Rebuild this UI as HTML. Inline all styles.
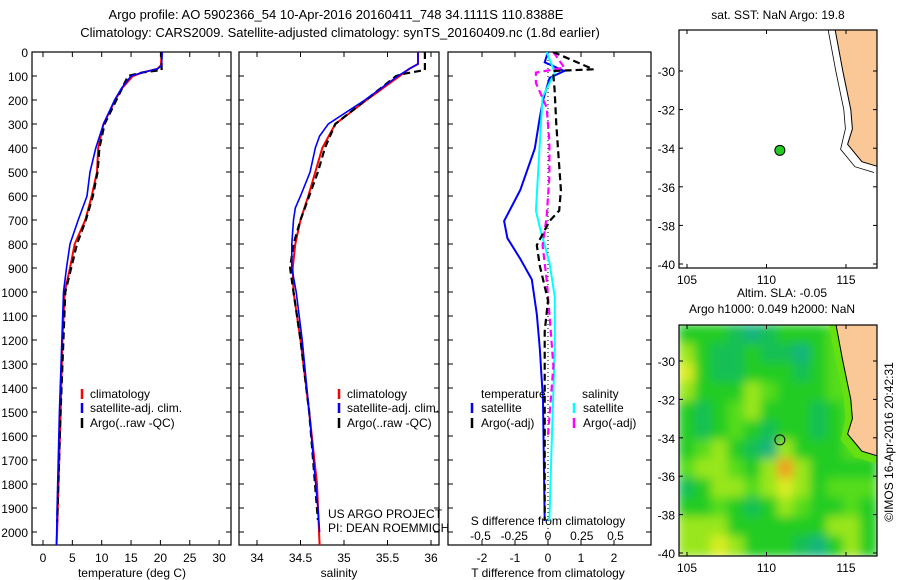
<!DOCTYPE html>
<html><head><meta charset="utf-8"><style>
body{margin:0;background:#fff;}
svg{display:block;font-family:"Liberation Sans",sans-serif;}
text{fill:#000;}
</style></head><body>
<svg id="s" width="900" height="580" viewBox="0 0 900 580" xmlns="http://www.w3.org/2000/svg">
<defs>
<clipPath id="c1"><rect x="32" y="52" width="199" height="493"/></clipPath>
<clipPath id="c2"><rect x="239" y="52" width="200" height="493"/></clipPath>
<clipPath id="c3"><rect x="448" y="52" width="203" height="493"/></clipPath>
<clipPath id="cm1"><rect x="679" y="30" width="198" height="238"/></clipPath>
<clipPath id="cm2"><rect x="679" y="325" width="198" height="231"/></clipPath>
<filter id="bl" x="-5%" y="-5%" width="110%" height="110%"><feGaussianBlur stdDeviation="5"/></filter>
</defs>
<text x="336" y="19" font-size="13" text-anchor="middle">Argo profile: AO 5902366_54 10-Apr-2016 20160411_748 34.1111S 110.8388E</text>
<text x="340" y="37" font-size="13" text-anchor="middle">Climatology: CARS2009. Satellite-adjusted climatology: synTS_20160409.nc (1.8d earlier)</text>
<g id="root"></g>
</svg>
<script>
// ---------- data ----------
const tempClimDepth=[0,55,70,85,100,150,200,300,400,500,600,700,800,900,1000,1200,1500,2000,2055];
const tempClim=[20.2,20.1,19.5,17,15.3,13.5,12.3,10.3,9.4,9.2,8.3,7.2,5.4,4.6,3.7,3.3,3.0,2.4,2.3];
const tempSatDepth=[0,55,70,85,100,150,200,300,400,500,600,700,800,900,1000,1500,1900,2055];
const tempSat=[20.3,20.2,19.5,17,15,13.4,12.2,10.3,9.0,8.0,7.5,6.0,4.6,4.0,3.5,2.8,2.4,2.3];
const tempArgoDepth=[0,75,85,100,200,300,400,500,600,700,800,900,1000,1500,1960];
const tempArgo=[20.2,20.2,17,14.5,12.5,10.5,9.6,9.3,8.5,7.3,5.8,4.8,3.8,3.0,2.4];
const salClimDepth=[0,50,70,100,200,300,400,500,600,700,800,900,1000,1200,1500,1800,2055];
const salClim=[35.85,35.85,35.75,35.64,35.26,34.9,34.75,34.67,34.59,34.5,34.44,34.41,34.42,34.5,34.6,34.69,34.72];
const salSatDepth=[0,50,70,100,200,300,350,400,500,600,650,700,800,900,1000,1200,1500,1900,2000];
const salSat=[35.85,35.85,35.75,35.62,35.24,34.82,34.72,34.67,34.61,34.5,34.44,34.42,34.4,34.4,34.45,34.52,34.6,34.7,34.72];
const salArgoDepth=[0,75,90,100,200,300,400,500,600,700,800,900,1000,1200,1500,1950];
const salArgo=[35.93,35.93,35.7,35.6,35.25,34.9,34.78,34.7,34.6,34.5,34.42,34.38,34.42,34.5,34.6,34.7];
const dTsatDepth=[0,43,79,108,201,273,402,575,704,776,862,948,1092,1236,1451,1954];
const dTsat=[0,-0.1,0.49,0.05,-0.15,-0.25,-0.4,-0.84,-1.33,-1.23,-0.84,-0.49,-0.34,-0.25,-0.15,-0.1];
const dTargoDepth=[0,72,79,158,302,575,661,704,805,891,1035,1164,1739,1950];
const dTargo=[0.15,1.38,0.15,0.2,0.25,0.39,0.34,0.05,-0.34,-0.25,0,-0.1,-0.1,-0.1];
const dSsatDepth=[0,86,187,374,661,733,877,1020,1236,1667,1954];
const dSsat=[-0.01,0.05,-0.04,-0.06,-0.09,-0.06,0.01,0.05,0.05,0.025,0.01];
const dSargoDepth=[0,65,86,129,230,374,517,690,805,948,1092,1308,1595];
const dSargo=[0.04,0.12,-0.09,-0.09,-0.01,0.01,0.01,-0.01,-0.04,-0.01,0.01,0.04,0];
const depthTicks=[0,100,200,300,400,500,600,700,800,900,1000,1100,1200,1300,1400,1500,1600,1700,1800,1900,2000];
const tempTicks=[0,5,10,15,20,25,30];
const salTicks=[34,34.5,35,35.5,36];
const dTTicks=[-2,-1,0,1,2];
const dSTicks=[-0.5,-0.25,0,0.25,0.5];
const dSTickLabels=["-0.5","-0.25","0","0.25","0.5"];
const lonTicks=[105,110,115];
const latTicks=[-30,-32,-34,-36,-38,-40];
const argoLon=110.84, argoLat=-34.11;
// SLA class grid (rows top->bottom, 12x12)
const slaGrid=[
[1,1,1,0.5,0.4,0.5,1,1,1,1.5,1.5,1.5],
[2,1,0.5,0.5,1,0.5,0.5,0.3,1,1.5,1.5,1.5],
[3,1,0.5,0.6,1,1,1,0.5,1,1.5,1.5,1.5],
[2,1,1,1,2,1.5,1,1,1,1.5,1.5,1.5],
[1,0.5,1,1.5,2,1,1,1,0.5,1,1.5,1.5],
[1,0.5,1,1.5,1,0.5,1,1,0.5,1,1.5,1.5],
[1,1.5,2,1,0.5,0.3,2,1,1,1,1.5,1.5],
[1.5,2,2,1.5,1,2,3.6,2,1,1,1,1],
[0.5,1,2,2,1.5,2,3,2,1,1.5,1.5,1.5],
[1,1,1.5,1,0.5,1,2,1.5,1,1,1.5,1],
[2,2,2,1,1,1,1,1,1,2,2,1],
[2,2,2.5,2,1,1,1,0.5,0.4,1,2,1]];
const coastLon=[114.3,114.8,115.3,115.4,115.1,116.0,117.2];
const coastLat=[-27.8,-30,-32,-33,-33.8,-34.7,-35.0];

// ---------- helpers ----------
const NS='http://www.w3.org/2000/svg';
const root=document.getElementById('root');
function mk(tag,attrs,parent){const e=document.createElementNS(NS,tag);for(const k in attrs)e.setAttribute(k,attrs[k]);(parent||root).appendChild(e);return e;}
const yD=d=>52+d*0.24;
const xT=t=>43+t*5.87;
const xS=s=>257+(s-34)*87;
const xDT=t=>548+t*33;
const xDS=s=>548+s*135;
function line(xs,ds,fx,color,w,dash,clip,name){
  const p=xs.map((v,i)=>fx(v).toFixed(1)+','+yD(ds[i]).toFixed(1)).join(' ');
  const e=mk('polyline',{points:p,fill:'none',stroke:color,'stroke-width':w,'clip-path':'url(#'+clip+')'});
  if(dash)e.setAttribute('stroke-dasharray',dash);
  
  
}
function txt(x,y,s,size,anchor,name){const e=mk('text',{x:x,y:y,'font-size':size,'text-anchor':anchor||'start'});e.textContent=s;return e;}
function panel(x0,w,name){const r=mk('rect',{x:x0,y:52,width:w,height:493,fill:'none',stroke:'#000','stroke-width':1.2});
  depthTicks.forEach(d=>{mk('line',{x1:x0,x2:x0+5,y1:yD(d),y2:yD(d),stroke:'#000'});mk('line',{x1:x0+w-5,x2:x0+w,y1:yD(d),y2:yD(d),stroke:'#000'});});}
function xticks(ticks,fx,labels,y,name){ticks.forEach((t,i)=>{const x=fx(t);mk('line',{x1:x,x2:x,y1:52,y2:57,stroke:'#000'});mk('line',{x1:x,x2:x,y1:540,y2:545,stroke:'#000'});txt(x,y,labels?labels[i]:String(t),12,'middle',name);});}

// ---------- panel 1 ----------
panel(32,199,'temperature-panel');
depthTicks.forEach(d=>txt(28,yD(d)+5,String(d),12,'end','depth-tick-label'));
xticks(tempTicks,xT,null,562,'temperature-tick-label');
txt(132,577,'temperature (deg C)',12,'middle','temperature-axis-title');
line(tempClim,tempClimDepth,xT,'#f00',2,null,'c1','temp-climatology-line');
line(tempArgo,tempArgoDepth,xT,'#000',2.2,'7,4','c1','temp-argo-line');
line(tempSat,tempSatDepth,xT,'#00f',1.6,null,'c1','temp-satellite-line');
// ---------- panel 2 ----------
panel(239,200,'salinity-panel');
xticks(salTicks,xS,null,562,'salinity-tick-label');
txt(339,577,'salinity',12,'middle','salinity-axis-title');
line(salClim,salClimDepth,xS,'#f00',2,null,'c2','sal-climatology-line');
line(salArgo,salArgoDepth,xS,'#000',2.2,'7,4','c2','sal-argo-line');
line(salSat,salSatDepth,xS,'#00f',1.6,null,'c2','sal-satellite-line');
// legends
[[80,'temperature-legend'],[337,'salinity-legend']].forEach(([lx,nm])=>{
  [['#f00','climatology',398],['#00f','satellite-adj. clim.',412],['#000','Argo(..raw -QC)',427]].forEach(([c,s,y])=>{
    mk('line',{x1:lx+2,x2:lx+2,y1:y-9,y2:y+1,stroke:c,'stroke-width':2.5});
    txt(lx+10,y,s,12,'start',nm+'-entry');
  });
});
txt(328,518,'US ARGO PROJECT',12,'start','project-credit');
txt(328,532,'PI: DEAN ROEMMICH',12,'start','pi-credit');
// ---------- panel 3 ----------
panel(448,203,'difference-panel');
dTTicks.forEach(t=>{const x=xDT(t);mk('line',{x1:x,x2:x,y1:52,y2:57,stroke:'#000'});mk('line',{x1:x,x2:x,y1:540,y2:545,stroke:'#000'});txt(x,562,String(t),12,'middle','t-diff-tick-label');});
txt(548,577,'T difference from climatology',12,'middle','t-diff-axis-title');
dSTicks.forEach((t,i)=>txt(xDS(t),540,dSTickLabels[i],12,'middle','s-diff-tick-label'));
txt(548,525,'S difference from climatology',12,'middle','s-diff-axis-title');
mk('line',{x1:548,x2:548,y1:52,y2:545,stroke:'#000','stroke-dasharray':'1,3'});
line(dTsat,dTsatDepth,xDT,'#00f',2,null,'c3','t-diff-satellite-line');
line(dSsat,dSsatDepth,xDS,'#0ff',2,null,'c3','s-diff-satellite-line');
line(dSargo,dSargoDepth,xDS,'#f0f',2.2,'7,4','c3','s-diff-argo-line');
line(dTargo,dTargoDepth,xDT,'#000',2.2,'7,4','c3','t-diff-argo-line');
txt(481,398,'temperature',12,'start','diff-legend-temperature-header');
txt(582,398,'salinity',12,'start','diff-legend-salinity-header');
[['#00f',472,'satellite',412],['#000',472,'Argo(-adj)',427],['#0ff',574,'satellite',412],['#f0f',574,'Argo(-adj)',427]].forEach(([c,lx,s,y])=>{
  mk('line',{x1:lx,x2:lx,y1:y-9,y2:y+1,stroke:c,'stroke-width':2.5});
  txt(lx+9,y,s,12,'start','diff-legend-entry');
});
// ---------- maps ----------
const xL=lon=>687+(lon-105)*15.9;
const yL1=lat=>71+(-30-lat)*19.3;
const yL2=lat=>361+(-30-lat)*19.2;
function mapAxes(top,bot,latY,name){
  const r=mk('rect',{x:679,y:top,width:198,height:bot-top,fill:'none',stroke:'#000','stroke-width':1.2});
  
  lonTicks.forEach(l=>{const x=xL(l);mk('line',{x1:x,x2:x,y1:bot-4,y2:bot,stroke:'#000'});mk('line',{x1:x,x2:x,y1:top,y2:top+4,stroke:'#000'});txt(x,bot+16,String(l),12,'middle','lon-tick-label');});
  latTicks.forEach(l=>{const y=latY(l);mk('line',{x1:679,x2:683,y1:y,y2:y,stroke:'#000'});mk('line',{x1:873,x2:877,y1:y,y2:y,stroke:'#000'});txt(675,y+5,String(l),12,'end','lat-tick-label');});
}
function land(yL,clip,name,top){
  const pts=coastLon.map((l,i)=>xL(l).toFixed(1)+','+yL(coastLat[i]).toFixed(1));
  const poly=mk('polygon',{points:pts.join(' ')+' 880,'+yL(-35)+' 880,'+(top-2),fill:'#f9c896',stroke:'#000','stroke-width':1,'clip-path':'url(#'+clip+')'});
  
}
// top map
txt(778,19,'sat. SST: NaN Argo: 19.8',12,'middle','sst-map-title');
mk('rect',{x:679,y:30,width:198,height:238,fill:'#fff'});
const shelf1=coastLon.map((l,i)=>(xL(l)-7).toFixed(1)+','+(yL1(coastLat[i])+(i>=4?5:0)).toFixed(1)).join(' ');
mk('polyline',{points:shelf1,fill:'none',stroke:'#000','stroke-width':0.8,'clip-path':'url(#cm1)'});
land(yL1,'cm1','land-top-map',30);
mapAxes(30,268,yL1,'sst-map');
const dot=mk('circle',{cx:xL(argoLon),cy:yL1(argoLat),r:5,fill:'#2c2',stroke:'#000','stroke-width':1});

// bottom map
txt(782,297,'Altim. SLA: -0.05',12,'middle','sla-map-title');
txt(772,313,'Argo h1000: 0.049 h2000: NaN',12,'middle','sla-map-subtitle');
const col=v=>v<0.45?'#18b47e':v<0.8?'#14bf55':v<1.3?'#22cc22':v<1.8?'#55dc1a':v<2.5?'#99e61a':v<3.2?'#d8ec22':'#f0a020';
const gH=mk('g',{'clip-path':'url(#cm2)'});

const gB=mk('g',{filter:'url(#bl)'},gH);
const nR=slaGrid.length,nC=slaGrid[0].length;
const cw=198/nC,ch=231/nR;
slaGrid.forEach((row,r)=>row.forEach((v,c)=>{
  const cell=mk('rect',{x:679+c*cw-1,y:325+r*ch-1,width:cw+2,height:ch+2,fill:col(v)},gB);
  
  
}));
const shelfPts=coastLon.map((l,i)=>(xL(l)-7).toFixed(1)+','+(yL2(coastLat[i])+(i>=4?6:0)).toFixed(1)).join(' ')+' 880,'+(yL2(-35)+6)+' 880,320';
mk('polygon',{points:shelfPts,fill:'#66e010'},gH);
land(yL2,'cm2','land-bottom-map',325);
mapAxes(325,556,yL2,'sla-map');
const c2=mk('circle',{cx:xL(argoLon),cy:yL2(argoLat),r:5,fill:'none',stroke:'#000','stroke-width':1});

const cr=txt(0,0,'©IMOS 16-Apr-2016 20:42:31',12,'middle','imos-credit');
cr.setAttribute('transform','translate(893,442) rotate(-90)');
</script>
</body></html>
